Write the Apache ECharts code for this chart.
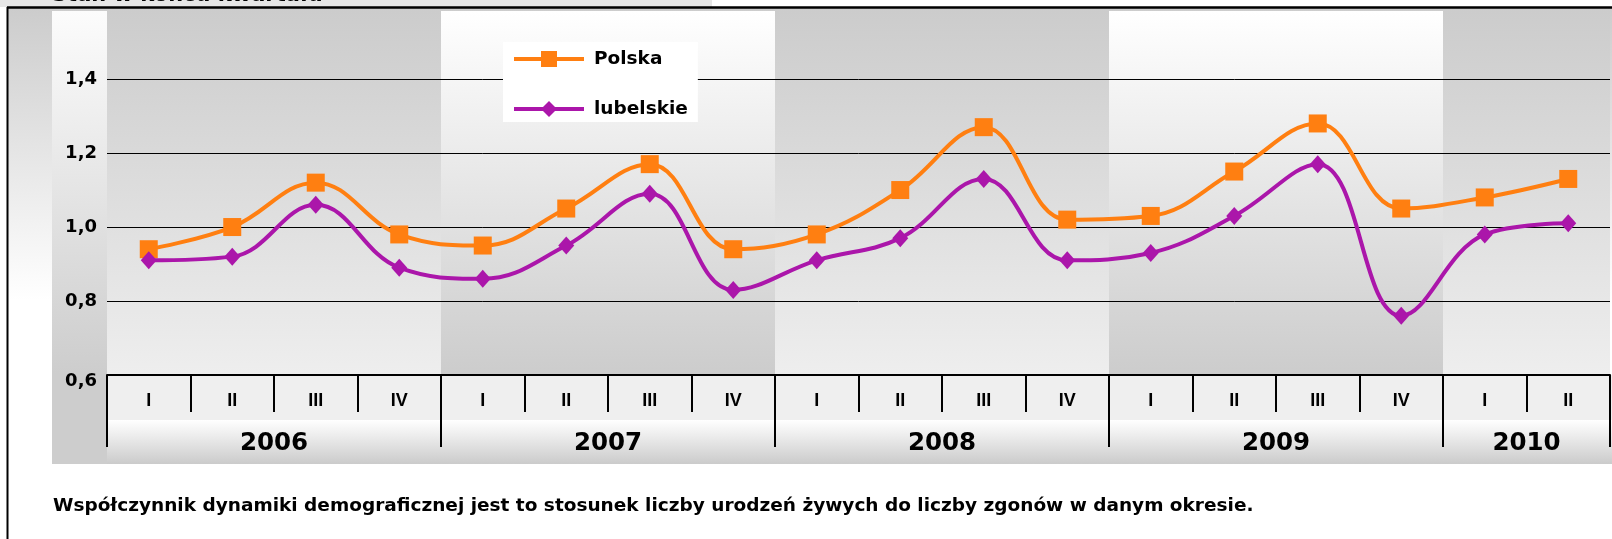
<!DOCTYPE html>
<html>
<head>
<meta charset="utf-8">
<script src="https://cdn.jsdelivr.net/npm/echarts@6/dist/echarts.min.js"></script>
<style>
  html, body { margin: 0; padding: 0; background: #fff; }
  #myChart { width: 1612px; height: 539px; }
</style>
</head>
<body>
<div id="myChart"></div>
<script>
// dane: współczynnik dynamiki demograficznej, stan w końcu kwartału
var quarters = ['I', 'II', 'III', 'IV', 'I', 'II', 'III', 'IV', 'I', 'II', 'III', 'IV', 'I', 'II', 'III', 'IV', 'I', 'II'];
var years = ['2006', '2007', '2008', '2009', '2010'];
var quartersInYear = [4, 4, 4, 4, 2];
var polska = [0.94, 1.00, 1.12, 0.98, 0.95, 1.05, 1.17, 0.94, 0.98, 1.10, 1.27, 1.02, 1.03, 1.15, 1.28, 1.05, 1.08, 1.13];
var lubelskie = [0.91, 0.92, 1.06, 0.89, 0.86, 0.95, 1.09, 0.83, 0.91, 0.97, 1.13, 0.91, 0.93, 1.03, 1.17, 0.76, 0.98, 1.01];
var yMin = 0.6;
var yMax = 1.584;
var yStep = 0.2;

var title = 'Stan w końcu kwartału';
var note = 'Współczynnik dynamiki demograficznej jest to stosunek liczby urodzeń żywych do liczby zgonów w danym okresie.';

// zakresy lat na osi kwartałów (start, koniec, etykieta)
var yearSpans = [];
var pos = 0;
for (var i = 0; i < years.length; i++) {
  yearSpans.push([pos, pos + quartersInYear[i], years[i], i]);
  pos += quartersInYear[i];
}

function vgrad(stops) {
  return {
    type: 'linear', x: 0, y: 0, x2: 0, y2: 1,
    colorStops: stops.map(function (s) { return { offset: s[0], color: s[1] }; })
  };
}

var myChart = echarts.init(document.getElementById('myChart'));

myChart.setOption({
  animation: false,
  backgroundColor: '#ffffff',
  textStyle: { fontFamily: 'DejaVu Sans' },
  grid: { left: 107, right: 2, top: 11, bottom: 164 },
  legend: {
    data: ['Polska', 'lubelskie'],
    orient: 'vertical',
    left: 503,
    top: 42,
    backgroundColor: '#ffffff',
    padding: [5, 10, 1, 9],
    itemGap: 26,
    itemWidth: 70,
    itemHeight: 20,
    lineStyle: { width: 4 },
    textStyle: { fontSize: 18.5, fontWeight: 'bold', color: '#000', lineHeight: 24, padding: [0, 0, 0, 5] }
  },
  xAxis: [
    {
      type: 'category',
      data: quarters,
      boundaryGap: true,
      axisLine: { show: true, lineStyle: { color: '#000', width: 2 } },
      axisTick: { show: true, alignWithLabel: false, interval: 0, length: 37, lineStyle: { color: '#000', width: 2 } },
      axisLabel: {
        interval: 0,
        margin: 17,
        color: '#000',
        fontFamily: 'Liberation Sans',
        fontWeight: 'bold',
        fontSize: 18
      }
    },
    { type: 'value', min: 0, max: quarters.length, show: false }
  ],
  yAxis: {
    type: 'value',
    min: yMin,
    max: yMax,
    interval: yStep,
    axisLine: { show: false },
    axisTick: { show: false },
    splitLine: { showMaxLine: false, lineStyle: { color: '#000', width: 1 } },
    axisLabel: {
      showMaxLabel: false,
      margin: 10,
      color: '#000',
      fontWeight: 'bold',
      fontSize: 18,
      formatter: function (v) {
        var s = v.toFixed(1).replace('.', ',');
        return v <= yMin + 1e-6 ? '{low|' + s + '}' : s;
      },
      rich: {
        low: { fontWeight: 'bold', fontSize: 18, color: '#000', padding: [12, 0, 0, 0] }
      }
    }
  },
  graphic: [
    { type: 'rect', z: -20, shape: { x: 0, y: 0, width: 712, height: 7 }, style: { fill: '#e6e6e6' } },
    { type: 'text', z: -19, x: 52, y: -4, style: { text: title, font: 'bold 21px "DejaVu Sans"', fill: '#000', verticalAlign: 'middle' } },
    { type: 'rect', z: -20, shape: { x: 8, y: 8, width: 1604, height: 531 },
      style: { fill: vgrad([[0, '#cccccc'], [0.55, '#ffffff'], [1, '#ffffff']]) } },
    { type: 'rect', z: -19, shape: { x: 52, y: 11, width: 55, height: 453 },
      style: { fill: vgrad([[0, '#fcfcfc'], [0.8, '#cdcdcd'], [1, '#cdcdcd']]) } },
    { type: 'rect', z: -19, shape: { x: 107, y: 375, width: 1505, height: 45 }, style: { fill: '#efefef' } },
    { type: 'rect', z: -19, shape: { x: 107, y: 420, width: 1505, height: 44 },
      style: { fill: vgrad([[0, '#ffffff'], [1, '#cbcbcb']]) } },
    { type: 'line', z: 20, shape: { x1: 7, y1: 7.5, x2: 1612, y2: 7.5 }, style: { stroke: '#000', lineWidth: 2.5 } },
    { type: 'line', z: 20, shape: { x1: 7.5, y1: 7, x2: 7.5, y2: 539 }, style: { stroke: '#000', lineWidth: 2 } },
    { type: 'text', z: 5, x: 53, y: 506, style: { text: note, font: 'bold 18.5px "DejaVu Sans"', fill: '#000', verticalAlign: 'middle' } }
  ],
  series: [
    {
      // pasy lat w tle + podpisy lat pod osią
      type: 'custom',
      xAxisIndex: 1,
      yAxisIndex: 0,
      z: -5,
      clip: false,
      silent: true,
      data: yearSpans,
      renderItem: function (params, api) {
        var s = api.coord([api.value(0), yMax]);
        var e = api.coord([api.value(1), yMin]);
        var idx = api.value(3);
        var fill = idx % 2 === 0
          ? vgrad([[0, '#cccccc'], [1, '#eeeeee']])
          : vgrad([[0, '#ffffff'], [1, '#cccccc']]);
        var children = [
          { type: 'rect', shape: { x: s[0], y: s[1], width: e[0] - s[0], height: e[1] - s[1] }, style: { fill: fill } },
          { type: 'line', shape: { x1: s[0], y1: e[1], x2: s[0], y2: e[1] + 72 }, style: { stroke: '#000', lineWidth: 2 } },
          { type: 'text', x: (s[0] + e[0]) / 2, y: e[1] + 69,
            style: { text: years[idx], font: 'bold 24.5px "DejaVu Sans"', fill: '#000', align: 'center', verticalAlign: 'middle' } }
        ];
        if (idx === years.length - 1) {
          children.push({ type: 'line', shape: { x1: e[0], y1: e[1], x2: e[0], y2: e[1] + 72 }, style: { stroke: '#000', lineWidth: 2 } });
        }
        return { type: 'group', children: children };
      }
    },
    {
      name: 'Polska',
      type: 'line',
      z: 3,
      data: polska,
      smooth: 0.4,
      symbol: 'rect',
      symbolSize: 18,
      color: '#ff7f11',
      lineStyle: { width: 4, color: '#ff7f11' },
      itemStyle: { color: '#ff7f11' }
    },
    {
      name: 'lubelskie',
      type: 'line',
      z: 4,
      data: lubelskie,
      smooth: 0.4,
      symbol: 'diamond',
      symbolSize: [16, 18],
      color: '#ab16aa',
      lineStyle: { width: 4, color: '#ab16aa' },
      itemStyle: { color: '#ab16aa' }
    }
  ]
});
</script>
</body>
</html>
